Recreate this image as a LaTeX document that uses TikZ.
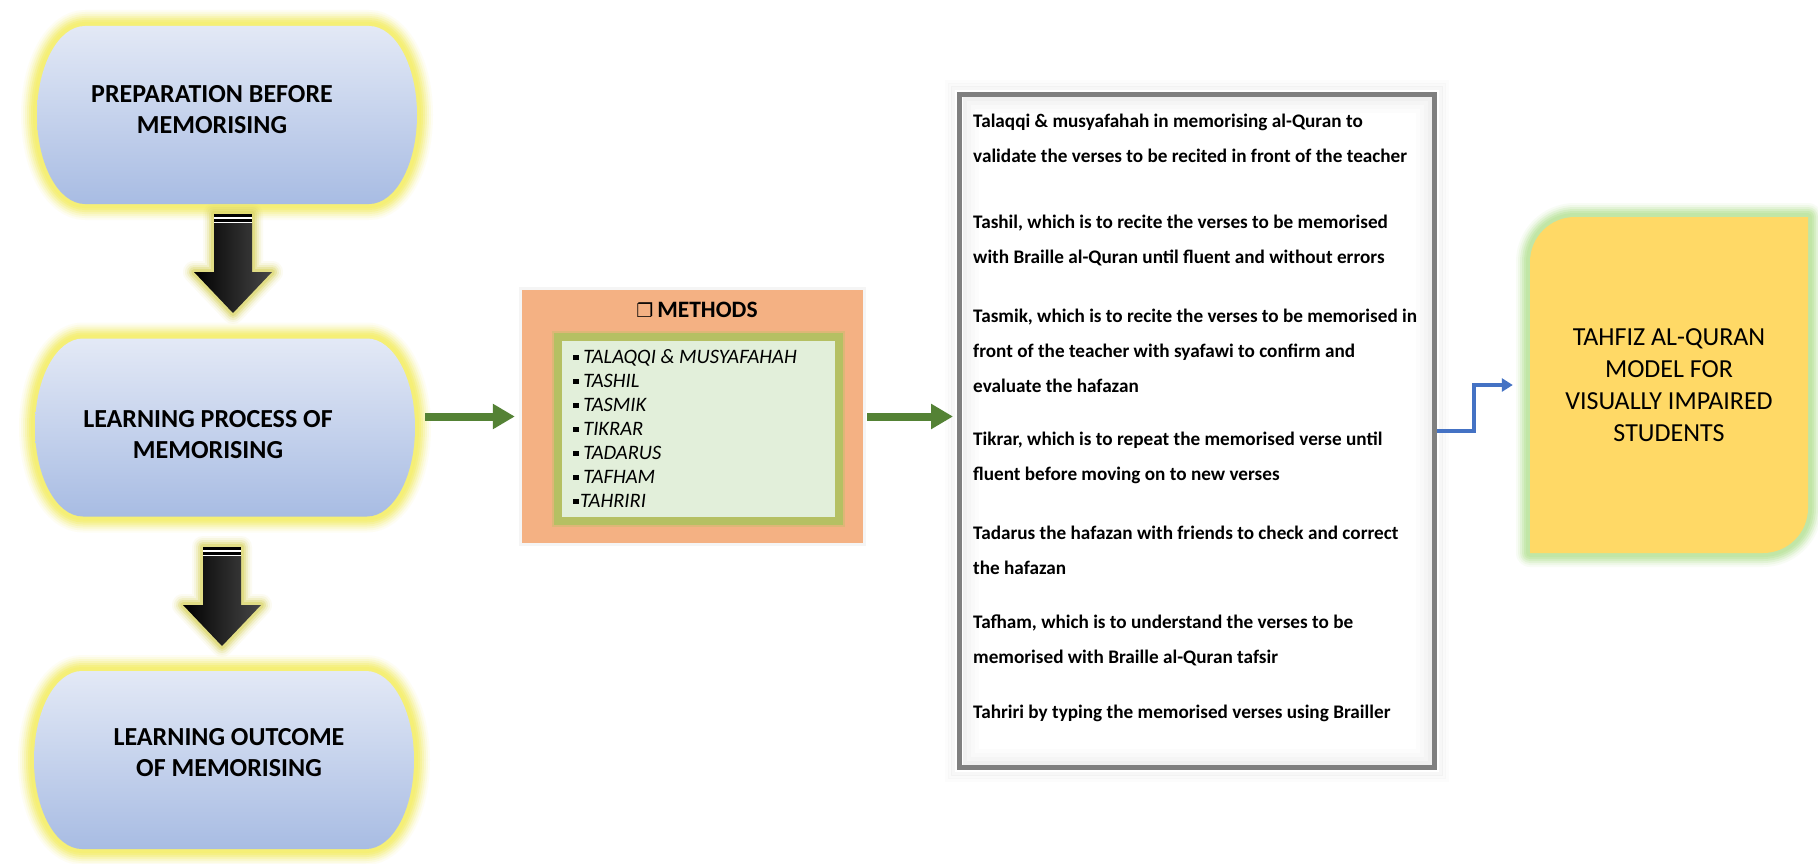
\documentclass[tikz,border=0pt]{standalone}
\usepackage{fontspec}
\setmainfont{Carlito}
\newfontfamily\dejavu{DejaVu Sans}
\usetikzlibrary{arrows.meta,calc}

\definecolor{glowY}{HTML}{F5EF6E}
\definecolor{pillTop}{HTML}{E3E9F6}
\definecolor{pillBot}{HTML}{A8BCE3}
\definecolor{arrGlow}{HTML}{D9D35E}
\definecolor{orangeBox}{HTML}{F4B183}
\definecolor{greenIn}{HTML}{E2EFDA}
\definecolor{oliveB}{HTML}{B5C063}
\definecolor{arrGreen}{HTML}{548235}
\definecolor{frameGray}{HTML}{7F7F7F}
\definecolor{finalY}{HTML}{FFD966}
\definecolor{finalGlow}{HTML}{BFE6A2}
\definecolor{arrBlue}{HTML}{4472C4}

\newcommand\pillpath{(-142,-89) -- (142,-89) .. controls (168.5,-89) and (190,-49.2) .. (190,0) .. controls (190,49.2) and (168.5,89) .. (142,89) -- (-142,89) .. controls (-168.5,89) and (-190,49.2) .. (-190,0) .. controls (-190,-49.2) and (-168.5,-89) .. (-142,-89) -- cycle}
\newcommand\arrowpath{(-19,0) -- (19,0) -- (19,58) -- (39,58) -- (0,99) -- (-39,58) -- (-19,58) -- cycle}
\newcommand\finalpath{(1575,217) -- (1808,217) -- (1808,508) .. controls (1808,532.85) and (1787.85,553) .. (1763,553) -- (1530,553) -- (1530,262) .. controls (1530,237.15) and (1550.15,217) .. (1575,217) -- cycle}

\newcommand\drawpill[2]{%
  \begin{scope}[shift={(#1,#2)}]
    \foreach \w/\o in {32/0.08,28/0.12,24/0.18,20/0.25,16/0.35,12/0.5,8/0.6}{\draw[glowY, line width=\w pt, opacity=\o, line join=round] \pillpath;}
    \path[top color=pillTop, bottom color=pillBot] \pillpath;
  \end{scope}}

\newcommand\blockarrow[2]{%
  \begin{scope}[shift={(#1,#2)}]
    \foreach \w/\o in {22/0.08,18/0.12,14/0.2,10/0.3,6/0.45}{\draw[arrGlow, line width=\w pt, opacity=\o, line join=round] \arrowpath;}
    \fill[white] (-19,0) rectangle (19,9);
    \path[left color=black, right color=black!72] (-19,9) -- (19,9) -- (19,58) -- (39,58) -- (0,99) -- (-39,58) -- (-19,58) -- cycle;
    \fill[black] (-19,0) rectangle (19,2.6);
    \fill[black] (-19,5) rectangle (19,7.6);
  \end{scope}}

\newcommand\bsq{\rule[3.8pt]{5.5pt}{5.5pt}}

\tikzset{
  pilltext/.style={align=center, font=\fontsize{26}{31}\selectfont\bfseries, inner sep=0pt},
  para/.style={anchor=west, align=left, font=\fontsize{19.2}{35}\selectfont\bfseries, inner sep=0pt},
  garrow/.style={draw=arrGreen, line width=8pt, -{Triangle[length=22pt,width=24pt]}},
  barrow/.style={draw=arrBlue, line width=3.5pt, -{Triangle[length=11pt,width=13pt]}},
}

\begin{document}
\begin{tikzpicture}[x=1pt,y=-1pt]
\useasboundingbox (0,0) rectangle (1818,864);
\fill[white] (0,0) rectangle (1818,864);

% pills
\drawpill{227}{115}
\drawpill{225}{427.5}
\drawpill{224}{760}
\node[minimum width=380pt, minimum height=178pt, inner sep=0pt] (p1) at (227,115) {};
\node[minimum width=380pt, minimum height=178pt, inner sep=0pt] (p2) at (225,427.5) {};
\node[minimum width=380pt, minimum height=178pt, inner sep=0pt] (p3) at (224,760) {};
\node[pilltext] (t1) at (212,110) {PREPARATION BEFORE\\MEMORISING};
\node[pilltext] (t2) at (208,435) {LEARNING PROCESS OF\\MEMORISING};
\node[pilltext] (t3) at (229,753) {LEARNING OUTCOME\\OF MEMORISING};

% block arrows
\blockarrow{233}{214}
\blockarrow{222}{547}

% methods box
\fill[black, opacity=0.04] (519,287) rectangle (866,546);
\node[fill=orangeBox, minimum width=341pt, minimum height=253pt, inner sep=0pt] (meth) at (692.5,416.5) {};
\draw[oliveB, line width=12pt, opacity=0.35] (558,337) rectangle (839,521);
\draw[oliveB, line width=8pt, fill=greenIn] (558,337) rectangle (839,521);
\node[font=\fontsize{23.5}{26}\selectfont\bfseries, inner sep=0pt] (mtitle) at (697,310) {{\dejavu\fontsize{19}{20}\selectfont ❐}\,METHODS};
\node[anchor=west, align=left, font=\fontsize{20.5}{24}\selectfont\itshape, inner sep=0pt] (mlist) at (573,429)
  {\bsq\ TALAQQI \& MUSYAFAHAH\\ \bsq\ TASHIL\\ \bsq\ TASMIK\\ \bsq\ TIKRAR\\ \bsq\ TADARUS\\ \bsq\ TAFHAM\\ \bsq\kern1.5pt TAHRIRI};

% text box
\foreach \i/\o in {10/0.012,7/0.02,4/0.03}{\draw[black, opacity=\o, line width=4pt] (957-\i,92-\i) rectangle (1437+\i,770+\i);}
\node[draw=frameGray, line width=5pt, fill=white, minimum width=475pt, minimum height=673pt, inner sep=0pt] (tbox) at (1197,431) {};
\foreach \i/\o in {5/0.06,9/0.04,13/0.025,17/0.012}{\draw[black, opacity=\o, line width=4pt] (959.5+\i,94.5+\i) rectangle (1434.5-\i,767.5-\i);}
\node[para] (d1) at (973,138) {Talaqqi \& musyafahah in memorising al-Quran to\\validate the verses to be recited in front of the teacher};
\node[para] (d2) at (973,240) {Tashil, which is to recite the verses to be memorised\\with Braille al-Quran until fluent and without errors};
\node[para] (d3) at (973,351) {Tasmik, which is to recite the verses to be memorised in\\front of the teacher with syafawi to confirm and\\evaluate the hafazan};
\node[para] (d4) at (973,458) {Tikrar, which is to repeat the memorised verse until\\fluent before moving on to new verses};
\node[para] (d5) at (973,550) {Tadarus the hafazan with friends to check and correct\\the hafazan};
\node[para] (d6) at (973,640) {Tafham, which is to understand the verses to be\\memorised with Braille al-Quran tafsir};
\node[para] (d7) at (973,713) {Tahriri by typing the memorised verses using Brailler};

% final box
\foreach \w/\o in {28/0.1,24/0.15,20/0.25,16/0.35,12/0.5,8/0.7}{\draw[finalGlow, line width=\w pt, opacity=\o, line join=round] \finalpath;}
\fill[finalY] \finalpath;
\node[align=center, font=\fontsize{26}{32}\selectfont, minimum width=278pt, minimum height=336pt, inner sep=0pt] (final) at (1669,385)
  {TAHFIZ AL-QURAN\\MODEL FOR\\VISUALLY IMPAIRED\\STUDENTS};

% connectors
\draw[garrow, shorten <=10pt, shorten >=7pt] (p2.east |- meth.west) -- (meth.west);
\draw[garrow, shorten <=4pt, shorten >=4pt] (meth.east) -- (meth.east -| tbox.west);
\draw[barrow, shorten >=17pt] (tbox.east) -- ++(37,0) |- (final.west);
\end{tikzpicture}
\end{document}
